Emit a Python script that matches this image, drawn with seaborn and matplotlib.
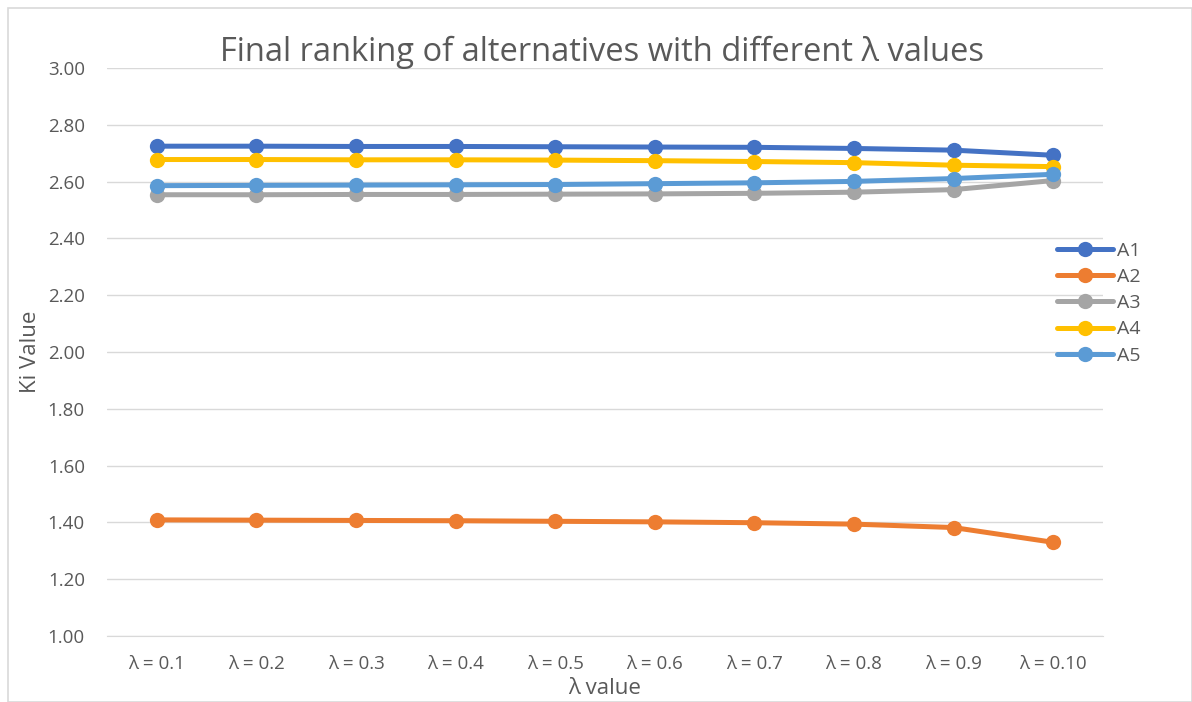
import pandas as pd
import matplotlib.pyplot as plt
import matplotlib.patches as mpatches
import seaborn as sns

# --- data ---
lambda_labels = ['λ = 0.1', 'λ = 0.2', 'λ = 0.3', 'λ = 0.4', 'λ = 0.5',
                 'λ = 0.6', 'λ = 0.7', 'λ = 0.8', 'λ = 0.9', 'λ = 0.10']
a1 = [2.725, 2.725, 2.724, 2.724, 2.723, 2.722, 2.721, 2.717, 2.711, 2.693]
a2 = [1.409, 1.408, 1.407, 1.406, 1.404, 1.402, 1.399, 1.394, 1.382, 1.330]
a3 = [2.554, 2.554, 2.555, 2.555, 2.556, 2.557, 2.559, 2.563, 2.572, 2.604]
a4 = [2.678, 2.678, 2.677, 2.677, 2.676, 2.674, 2.671, 2.667, 2.658, 2.653]
a5 = [2.586, 2.587, 2.588, 2.589, 2.590, 2.593, 2.596, 2.601, 2.611, 2.626]
series_names = ['A1', 'A2', 'A3', 'A4', 'A5']
colors = ['#4472C4', '#ED7D31', '#A5A5A5', '#FFC000', '#5B9BD5']

df = pd.concat([
    pd.DataFrame({'lam': lambda_labels, 'Ki': vals, 'alt': name})
    for name, vals in zip(series_names, [a1, a2, a3, a4, a5])
], ignore_index=True)

sns.set_style('white')
plt.rcParams['font.family'] = ['Open Sans', 'DejaVu Sans']

fig = plt.figure(figsize=(11.92, 7.02), dpi=100)
ax = fig.add_axes([0.0898, 0.094, 0.8355, 0.809])

sns.lineplot(data=df, x='lam', y='Ki', hue='alt', palette=colors,
             marker='o', markersize=11, markeredgewidth=0, linewidth=3.6,
             sort=False, ax=ax)

ax.set_ylim(1.0, 3.0)
ax.set_yticks([1.0 + 0.2 * i for i in range(11)])
ax.set_yticklabels([f'{1.0 + 0.2 * i:.2f}' for i in range(11)])
ax.set_xlim(-0.5, 9.5)
ax.yaxis.grid(True, color='#D9D9D9', linewidth=1)
ax.tick_params(axis='both', labelsize=13.5, colors='#595959', length=0)
ax.tick_params(axis='x', pad=14)
ax.tick_params(axis='y', pad=16)
for side in ['top', 'right', 'left']:
    ax.spines[side].set_visible(False)
ax.spines['bottom'].set_color('#D9D9D9')

ax.set_xlabel('λ value', fontsize=16, color='#595959')
ax.xaxis.set_label_coords(0.5, -0.074)
ax.set_ylabel('Ki Value', fontsize=16, color='#595959', va='center')
ax.yaxis.set_label_coords(-0.077, 0.5)
fig.text(0.505, 0.926, 'Final ranking of alternatives with different λ values',
         ha='center', va='center', fontsize=23.5, color='#595959')

leg = ax.legend(loc='center left', bbox_to_anchor=(0.872, 0.568),
                bbox_transform=fig.transFigure, frameon=False,
                fontsize=14, handlelength=2.9, handletextpad=0.2,
                labelspacing=0.42, labelcolor='#595959')
for line in leg.get_lines():
    line.set_linewidth(3.6)

# light frame around the chart area
fig.patches.append(mpatches.Rectangle((0.007, 0.0), 0.993, 0.989, transform=fig.transFigure,
                                      fill=False, edgecolor='#D9D9D9', linewidth=1.2))

fig.savefig('out.png', dpi=100)
